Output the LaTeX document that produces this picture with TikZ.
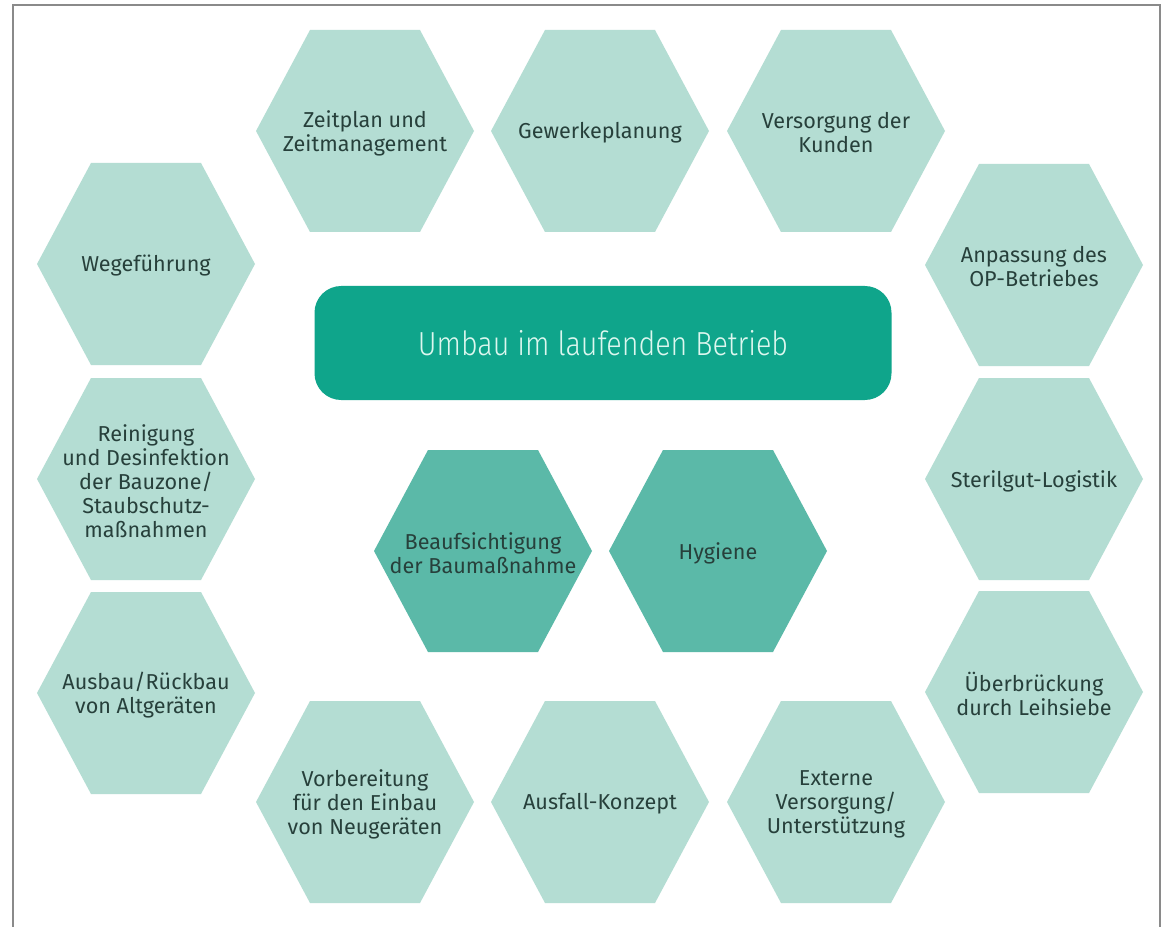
\documentclass[tikz,border=0pt]{standalone}
\usepackage{fontspec}
\setmainfont{Fira Sans}
\newfontfamily\centerfont{Fira Sans Light}[FakeStretch=0.86]
\definecolor{hexlight}{HTML}{B4DDD3}
\definecolor{hexdark}{HTML}{5BB9A8}
\definecolor{mainbox}{HTML}{0FA58B}
\definecolor{maintext}{HTML}{DDF7EF}
\definecolor{hextext}{HTML}{27403B}
\definecolor{framegray}{HTML}{8A8A8A}
\tikzset{
  hexlabel/.style={align=center, text=hextext, font=\fontsize{16.2}{18}\selectfont, inner sep=0pt},
  lighthex/.style={fill=hexlight},
  darkhex/.style={fill=hexdark},
}
% #1 name, #2 cx, #3 cy, #4 fill style, #5 text
\newcommand{\hexnode}[5]{%
  \fill[#4, shift={(#2,#3)}] (-109,0) -- (-55,-101) -- (55,-101) -- (109,0) -- (55,101) -- (-55,101) -- cycle;
  \node[hexlabel] (#1) at (#2,#3+2) {#5};
}
\begin{document}
\begin{tikzpicture}[x=0.75pt, y=-0.75pt]
\useasboundingbox (0,0) rectangle (1164,927);
\fill[white] (0,0) rectangle (1164,927);
\draw[framegray, line width=1.5pt] (13,930) -- (13,5) -- (1160,5) -- (1160,930);

% top row
\hexnode{zeit}{365}{131}{lighthex}{Zeitplan und\\Zeitmanagement}
\hexnode{gewerk}{600}{131}{lighthex}{Gewerkeplanung}
\hexnode{kunden}{836}{131}{lighthex}{Versorgung der\\Kunden}
% left column
\hexnode{wege}{146}{264}{lighthex}{Wegeführung}
\hexnode{rein}{146}{479}{lighthex}{Reinigung\\und Desinfektion\\der Bauzone/\\Staubschutz-\\maßnahmen}
\hexnode{ausbau}{146}{693}{lighthex}{Ausbau/Rückbau\\von Altgeräten}
% right column
\hexnode{anpass}{1034}{265}{lighthex}{Anpassung des\\OP-Betriebes}
\hexnode{steril}{1034}{479}{lighthex}{Sterilgut-Logistik}
\hexnode{ueber}{1034}{692}{lighthex}{Überbrückung\\durch Leihsiebe}
% bottom row
\hexnode{vorb}{365}{802}{lighthex}{Vorbereitung\\für den Einbau\\von Neugeräten}
\hexnode{ausfall}{600}{802}{lighthex}{Ausfall-Konzept}
\hexnode{extern}{836}{802}{lighthex}{Externe\\Versorgung/\\Unterstützung}
% middle
\hexnode{aufsicht}{483}{551}{darkhex}{Beaufsichtigung\\der Baumaßnahme}
\hexnode{hyg}{718}{551}{darkhex}{Hygiene}

% central box
\node[fill=mainbox, rounded corners=20pt, minimum width=577*0.75pt, minimum height=114*0.75pt,
      text=maintext, font=\centerfont\fontsize{25}{28}\selectfont, inner sep=0pt]
  (main) at (603,343) {Umbau im laufenden Betrieb};
\end{tikzpicture}
\end{document}
